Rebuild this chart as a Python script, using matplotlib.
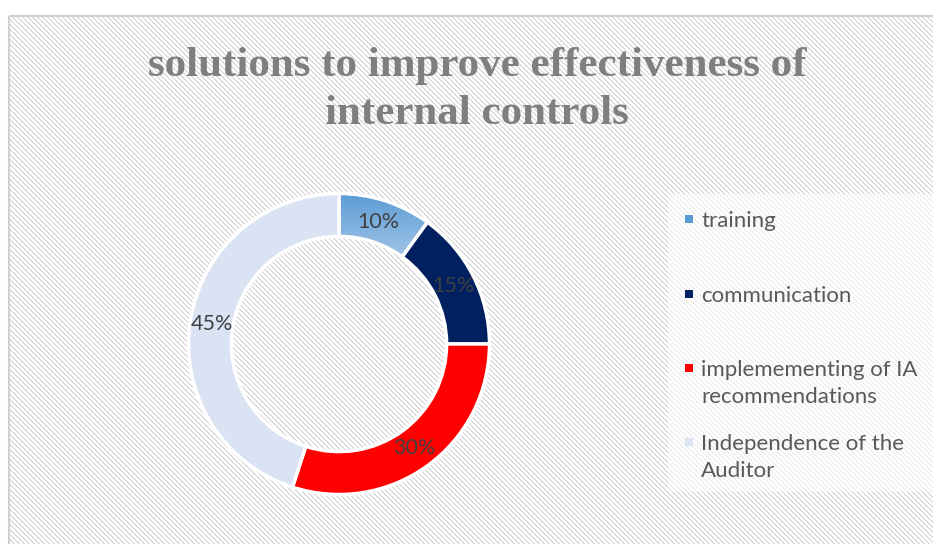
import numpy as np
import matplotlib
matplotlib.use('Agg')
import matplotlib.pyplot as plt
from matplotlib.patches import Rectangle
from matplotlib.colors import LinearSegmentedColormap

# Pay sayıları (yüzde)
categories = ['training', 'communication', 'implemementing of IA\nrecommendations',
              'Independence of the\nAuditor']
shares = [10, 15, 30, 45]
colors = ['#5b9bd5', '#002060', '#ff0000', '#dae3f3']
title = 'solutions to improve effectiveness of\ninternal controls'

W, H = 933, 544
fig = plt.figure(figsize=(W / 100, H / 100), dpi=100, facecolor='white')

# Arka plan: ince çapraz çizgili dolgu + gri kenarlık
bg = fig.add_axes([0, 0, 1, 1])
bg.set_xlim(0, W)
bg.set_ylim(H, 0)
bg.axis('off')
rows, cols = np.mgrid[0:H, 0:W]
stripes = ((cols - rows) % 5 < 2).astype(float)
pattern = np.ones((H, W, 3))
pattern[stripes == 1] = np.array([0xdc, 0xdc, 0xdc]) / 255.0
pattern[:15, :] = 1.0
pattern[:, :8] = 1.0
bg.imshow(pattern, extent=(0, W, H, 0), interpolation='nearest', aspect='auto')
bg.add_patch(Rectangle((8.5, 15.5), W, H, fill=False, edgecolor='#d0d0d0', lw=1.5))
# lejant alanının yarı saydam beyaz zemini
bg.add_patch(Rectangle((668, 194), W - 668, 298, facecolor='white', alpha=0.55,
                       edgecolor='none'))

fig.text(477 / W, 1 - 90 / H, title, ha='center', va='center', fontsize=31,
         fontweight='bold', color='#7f7f7f', family='Liberation Serif',
         linespacing=1.36)

# Halka grafik
cx, cy, r = 339, 344, 152
ax = fig.add_axes([(cx - r) / W, 1 - (cy + r) / H, 2 * r / W, 2 * r / H])
wedges, texts, autotexts = ax.pie(
    shares, colors=colors, startangle=90, counterclock=False, radius=1,
    autopct='%1.0f%%', pctdistance=0.855,
    wedgeprops=dict(width=0.285, edgecolor='white', linewidth=2.5),
    textprops=dict(color='#404040', fontsize=15.5, family='Lato'))

# training diliminde dikey renk geçişi
grad = LinearSegmentedColormap.from_list('tr', ['#9dc3e6', '#5b9bd5'])
img = ax.imshow(np.linspace(0, 1, 100).reshape(-1, 1), cmap=grad, origin='lower',
                extent=(0, 0.7, 0.6, 1.0), aspect='auto', zorder=0.5)
img.set_clip_path(wedges[0])
wedges[0].set_facecolor('none')
wedges[0].set_zorder(1)
ax.set_xlim(-1.01, 1.01)
ax.set_ylim(-1.01, 1.01)
ax.axis('off')

# Lejant
entry_y = [219, 294, 368, 442]
for name, col, y in zip(categories, colors, entry_y):
    bg.add_patch(Rectangle((685, y - 4), 8, 8, facecolor=col, edgecolor='none'))
    fig.text(701 / W, 1 - (y - 8) / H, name, ha='left', va='top', fontsize=16,
             color='#595959', family='Lato', linespacing=1.43)

fig.savefig('out.png', dpi=100)
